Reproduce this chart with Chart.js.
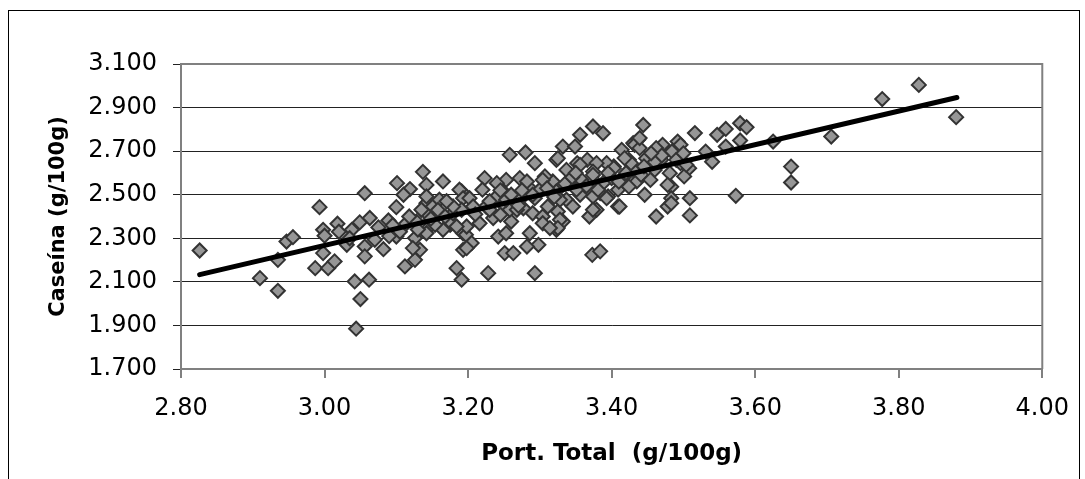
<!DOCTYPE html>
<html>
<head>
<meta charset="utf-8">
<title>Caseína vs Port. Total</title>
<script src="https://cdn.jsdelivr.net/npm/chart.js@4.4.1/dist/chart.umd.min.js"></script>
<style>
    html, body { margin: 0; padding: 0; background: #fff; }
    #wrap { position: relative; width: 1085px; height: 479px; overflow: hidden; }
    #frame { position: absolute; left: 8px; top: 10px; width: 1072px; height: 480px; border: 1px solid #000; box-sizing: border-box; }
    #chart { position: absolute; left: 0; top: 0; }
</style>
</head>
<body>
<div id="wrap">
    <div id="frame"></div>
    <canvas id="chart" width="1085" height="479"></canvas>
</div>
<script>
// Port. Total (g/100g) on x, Caseína (g/100g) on y
const portTotal = [
    2.826, 2.910, 2.935, 2.935, 2.947, 2.956, 2.987, 2.993, 2.998, 3.000,
    2.998, 3.005, 3.014, 3.018, 3.031, 3.038, 3.049, 3.056, 3.063, 3.056,
    3.056, 3.070, 3.082, 3.042, 3.062, 3.050, 3.044, 3.089, 3.100, 3.101,
    3.119, 3.110, 3.137, 3.142, 3.112, 3.126, 3.133, 3.126, 3.100, 3.112,
    3.128, 3.142, 3.142, 3.142, 3.165, 3.151, 3.184, 3.191, 3.193, 3.191,
    3.175, 3.165, 3.193, 3.123, 3.160, 3.135, 3.142, 3.177, 3.188, 3.193,
    3.202, 3.223, 3.220, 3.197, 3.205, 3.228, 3.216, 3.235, 3.242, 3.253,
    3.251, 3.263, 3.260, 3.258, 3.280, 3.293, 3.253, 3.272, 3.249, 3.240,
    3.286, 3.272, 3.293, 3.277, 3.290, 3.304, 3.286, 3.298, 3.282, 3.293,
    3.323, 3.332, 3.337, 3.318, 3.307, 3.323, 3.337, 3.311, 3.325, 3.304,
    3.323, 3.332, 3.142, 3.179, 3.154, 3.225, 3.249, 3.207, 3.191, 3.198,
    3.258, 3.374, 3.388, 3.356, 3.349, 3.325, 3.352, 3.366, 3.414, 3.403,
    3.393, 3.379, 3.374, 3.379, 3.360, 3.384, 3.395, 3.409, 3.369, 3.379,
    3.373, 3.384, 3.430, 3.435, 3.424, 3.430, 3.444, 3.328, 3.325, 3.300,
    3.304, 3.282, 3.240, 3.198, 3.314, 3.179, 3.230, 3.253, 3.245, 3.268,
    3.184, 3.437, 3.516, 3.432, 3.439, 3.471, 3.462, 3.492, 3.496, 3.531,
    3.484, 3.469, 3.448, 3.427, 3.403, 3.418, 3.441, 3.460, 3.481, 3.508,
    3.501, 3.496, 3.454, 3.483, 3.446, 3.483, 3.509, 3.478, 3.462, 3.509,
    3.393, 3.374, 3.374, 3.356, 3.346, 3.328, 3.356, 3.374, 3.400, 3.388,
    3.358, 3.340, 3.351, 3.381, 3.409, 3.424, 3.411, 3.504, 3.478, 3.439,
    3.418, 3.483, 3.540, 3.547, 3.559, 3.559, 3.573, 3.579, 3.588, 3.579,
    3.625, 3.650, 3.650, 3.706, 3.777, 3.828, 3.880, 3.020, 3.035, 3.075,
    3.090, 3.095, 3.118, 3.130, 3.105, 3.148, 3.158, 3.168, 3.170, 3.210,
    3.230, 3.245, 3.260, 3.275, 3.270, 3.290, 3.310, 3.320, 3.335, 3.345,
    3.350, 3.365, 3.395, 3.410, 3.420, 3.445, 3.460, 3.470, 3.455, 3.490,
    3.500
];
const caseina = [
    2.244, 2.117, 2.059, 2.201, 2.285, 2.305, 2.163, 2.443, 2.339, 2.312,
    2.232, 2.163, 2.194, 2.367, 2.270, 2.339, 2.373, 2.507, 2.393, 2.262,
    2.217, 2.293, 2.250, 2.102, 2.110, 2.021, 1.885, 2.382, 2.443, 2.553,
    2.526, 2.500, 2.605, 2.545, 2.171, 2.201, 2.247, 2.301, 2.308, 2.362,
    2.377, 2.415, 2.339, 2.461, 2.561, 2.446, 2.163, 2.110, 2.247, 2.515,
    2.362, 2.339, 2.323, 2.255, 2.477, 2.431, 2.323, 2.369, 2.523, 2.484,
    2.484, 2.576, 2.523, 2.316, 2.278, 2.140, 2.369, 2.393, 2.308, 2.323,
    2.232, 2.232, 2.377, 2.683, 2.694, 2.645, 2.568, 2.576, 2.515, 2.492,
    2.530, 2.477, 2.484, 2.438, 2.415, 2.400, 2.323, 2.270, 2.262, 2.140,
    2.660, 2.721, 2.614, 2.561, 2.584, 2.515, 2.477, 2.446, 2.423, 2.369,
    2.339, 2.377, 2.492, 2.415, 2.362, 2.446, 2.454, 2.446, 2.431, 2.354,
    2.431, 2.813, 2.782, 2.775, 2.721, 2.667, 2.645, 2.660, 2.706, 2.630,
    2.645, 2.645, 2.606, 2.553, 2.523, 2.507, 2.492, 2.446, 2.400, 2.431,
    2.224, 2.240, 2.614, 2.561, 2.660, 2.737, 2.820, 2.385, 2.347, 2.523,
    2.568, 2.561, 2.553, 2.255, 2.347, 2.446, 2.431, 2.477, 2.408, 2.431,
    2.354, 2.752, 2.783, 2.729, 2.714, 2.729, 2.714, 2.744, 2.729, 2.698,
    2.698, 2.660, 2.667, 2.645, 2.622, 2.584, 2.591, 2.614, 2.599, 2.622,
    2.584, 2.645, 2.568, 2.537, 2.500, 2.484, 2.484, 2.446, 2.400, 2.405,
    2.484, 2.492, 2.431, 2.500, 2.446, 2.477, 2.637, 2.591, 2.576, 2.553,
    2.568, 2.553, 2.523, 2.523, 2.523, 2.537, 2.446, 2.637, 2.545, 2.760,
    2.668, 2.461, 2.651, 2.775, 2.802, 2.721, 2.495, 2.828, 2.810, 2.749,
    2.744, 2.629, 2.556, 2.767, 2.939, 3.004, 2.856, 2.330, 2.300, 2.350,
    2.310, 2.360, 2.400, 2.340, 2.330, 2.390, 2.430, 2.400, 2.470, 2.410,
    2.470, 2.520, 2.500, 2.520, 2.450, 2.500, 2.530, 2.490, 2.550, 2.580,
    2.600, 2.540, 2.600, 2.560, 2.600, 2.630, 2.650, 2.680, 2.690, 2.660,
    2.690
];

// linear trend line end points
const trendX = [2.826, 3.881];
const trendY = [2.133, 2.946];

const xTicks = [2.80, 3.00, 3.20, 3.40, 3.60, 3.80, 4.00];
const yTicks = [1.700, 1.900, 2.100, 2.300, 2.500, 2.700, 2.900, 3.100];

const FONT = "'DejaVu Sans', 'Liberation Sans', Arial, sans-serif";

// gray frame around the plot area
const plotFrame = {
    id: 'plotFrame',
    beforeDatasetsDraw(chart) {
        const {ctx, chartArea: a} = chart;
        ctx.save();
        ctx.strokeStyle = '#808080';
        ctx.lineWidth = 2;
        ctx.beginPath();
        ctx.moveTo(a.left, a.top);
        ctx.lineTo(a.right, a.top);
        ctx.lineTo(a.right, a.bottom);
        ctx.stroke();
        ctx.restore();
    }
};

const points = portTotal.map((x, i) => ({x: x, y: caseina[i]}));
const trend = trendX.map((x, i) => ({x: x, y: trendY[i]}));

const ctx = document.getElementById('chart');
new Chart(ctx, {
    type: 'scatter',
    data: {
        datasets: [{
                label: 'Tendencia',
                data: trend,
                showLine: true,
                borderColor: '#000',
                borderWidth: 5,
                borderCapStyle: 'round',
                pointRadius: 0,
                order: 0
            }, {
                label: 'Caseína',
                data: points,
                pointStyle: 'rectRot',
                pointRadius: 7,
                pointBackgroundColor: '#969696',
                pointBorderColor: '#333333',
                pointBorderWidth: 2,
                order: 1
            }]
    },
    options: {
        responsive: false,
        animation: false,
        events: [],
        layout: {
            padding: {top: 64, right: 42, left: 0, bottom: 0}
        },
        plugins: {
            legend: {display: false},
            tooltip: {enabled: false}
        },
        scales: {
            x: {
                type: 'linear',
                min: 2.8,
                max: 4.0,
                afterBuildTicks: (s) => { s.ticks = xTicks.map(v => ({value: v})); },
                afterFit: (s) => { s.height = 110; },
                ticks: {
                    color: '#000',
                    padding: 16,
                    maxRotation: 0,
                    font: {family: FONT, size: 24},
                    callback: (v) => Number(v).toFixed(2)
                },
                grid: {
                    drawOnChartArea: false,
                    drawTicks: true,
                    tickLength: 9,
                    color: '#808080',
                    lineWidth: 2
                },
                border: {color: '#808080', width: 2},
                title: {
                    display: true,
                    text: 'Port. Total  (g/100g)',
                    color: '#000',
                    font: {family: FONT, size: 23, weight: 'bold'},
                    padding: {top: 0, bottom: 11}
                }
            },
            y: {
                type: 'linear',
                min: 1.7,
                max: 3.1,
                afterBuildTicks: (s) => { s.ticks = yTicks.map(v => ({value: v})); },
                afterFit: (s) => { s.width = 181; },
                ticks: {
                    color: '#000',
                    padding: 16,
                    font: {family: FONT, size: 24},
                    callback: (v) => Number(v).toFixed(3)
                },
                grid: {
                    color: '#222',
                    lineWidth: 1,
                    drawTicks: true,
                    tickLength: 8
                },
                border: {color: '#808080', width: 2},
                title: {
                    display: true,
                    text: 'Caseína (g/100g)',
                    color: '#000',
                    font: {family: FONT, size: 21, weight: 'bold'},
                    padding: {top: 46, bottom: 0}
                }
            }
        }
    },
    plugins: [plotFrame]
});
</script>
</body>
</html>
